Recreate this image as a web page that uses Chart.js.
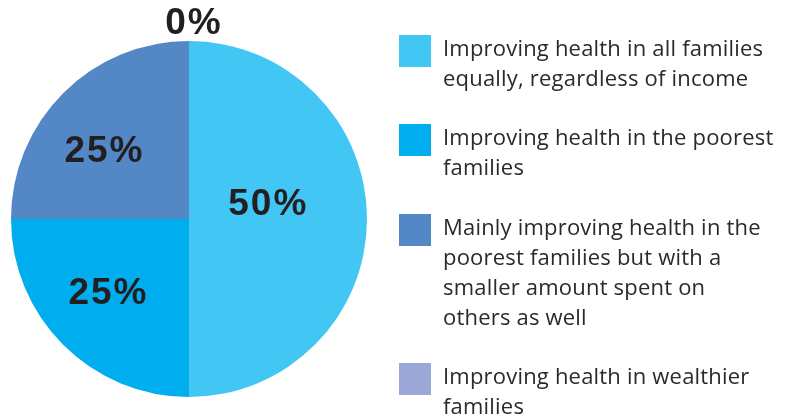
<!DOCTYPE html>
<html>
<head>
<meta charset="utf-8">
<script src="https://cdn.jsdelivr.net/npm/chart.js@4/dist/chart.umd.min.js"></script>
<style>
  html, body { margin: 0; padding: 0; background: #fff; }
  #wrap { position: relative; width: 792px; height: 419px; overflow: hidden; }
  #pie { position: absolute; left: 0; top: 0; }
  .item { position: absolute; left: 399px; width: 390px; }
  .swatch { position: absolute; left: 0; top: 0; width: 32px; height: 32px; }
  .text { position: absolute; left: 44px; top: -3px; font-family: "Open Sans", sans-serif;
          font-size: 22px; letter-spacing: 0.2px; line-height: 30px; color: #2b2a2a; white-space: nowrap; }
</style>
</head>
<body>
<div id="wrap">
  <canvas id="pie" width="792" height="419"></canvas>
  <div id="legend"></div>
</div>
<script>
//////////////// DATA
const categories = [
  ['Improving health in all families', 'equally, regardless of income'],
  ['Improving health in the poorest', 'families'],
  ['Mainly improving health in the', 'poorest families but with a', 'smaller amount spent on', 'others as well'],
  ['Improving health in wealthier', 'families'],
];
const shares = [50, 25, 25, 0];
const colors = ['#42c7f4', '#00aeef', '#5387c6', '#9ba8d7'];

//////////////// LEGEND (html so the lines wrap like the original)
const legendTops = [35, 124, 214, 363];
const legend = document.getElementById('legend');
categories.forEach((lines, i) => {
  const item = document.createElement('div');
  item.className = 'item';
  item.style.top = legendTops[i] + 'px';
  const sw = document.createElement('div');
  sw.className = 'swatch';
  sw.style.background = colors[i];
  const txt = document.createElement('div');
  txt.className = 'text';
  txt.innerHTML = lines.join('<br>');
  item.appendChild(sw);
  item.appendChild(txt);
  legend.appendChild(item);
});

//////////////// percent labels on the slices
const sliceLabels = {
  id: 'sliceLabels',
  afterDatasetsDraw(chart) {
    const ctx = chart.ctx;
    const meta = chart.getDatasetMeta(0);
    // radius factor, x nudge, y nudge per slice
    const place = [[0.44, 0, -14], [0.6, -6, -1], [0.6, -10, 8], [1.1, 4, 1]];
    ctx.save();
    ctx.font = 'bold 37px "Liberation Sans", Arial, sans-serif';
    ctx.letterSpacing = '2px';
    ctx.fillStyle = '#231f20';
    ctx.textAlign = 'center';
    ctx.textBaseline = 'middle';
    meta.data.forEach((arc, i) => {
      const p = arc.getProps(['x', 'y', 'startAngle', 'endAngle', 'outerRadius']);
      const mid = (p.startAngle + p.endAngle) / 2;
      const r = p.outerRadius * place[i][0];
      const x = p.x + Math.cos(mid) * r + place[i][1] + 1;
      const y = p.y + Math.sin(mid) * r + place[i][2];
      ctx.fillText(shares[i] + '%', x, y);
    });
    ctx.restore();
  }
};

new Chart(document.getElementById('pie').getContext('2d'), {
  type: 'pie',
  data: {
    labels: categories.map(l => l.join(' ')),
    datasets: [{
      data: shares,
      backgroundColor: colors,
      borderWidth: 0,
    }],
  },
  options: {
    responsive: false,
    animation: false,
    layout: { padding: { left: 11, top: 41, right: 425, bottom: 22 } },
    plugins: {
      legend: { display: false },
      tooltip: { enabled: false },
    },
  },
  plugins: [sliceLabels],
});
</script>
</body>
</html>
